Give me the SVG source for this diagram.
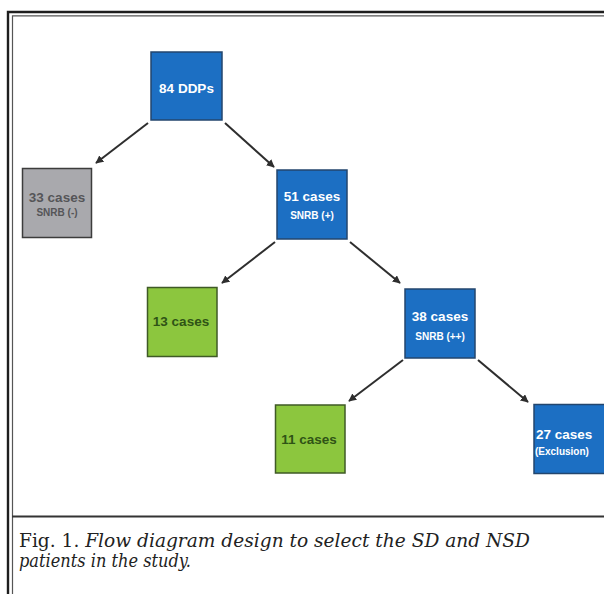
<svg xmlns="http://www.w3.org/2000/svg" width="604" height="594" viewBox="0 0 604 594">
<defs>
<marker id="ah" viewBox="0 0 10 10" refX="9" refY="5" markerWidth="4" markerHeight="4" orient="auto" markerUnits="strokeWidth">
<path d="M0,0 L10,5 L0,10 z" fill="#2e2e2e"/>
</marker>
</defs>
<style>
.blue{fill:#1c6fc3;stroke:#23466e;stroke-width:1.5}
.gray{fill:#a9a9ad;stroke:#3c3c3c;stroke-width:1.5}
.green{fill:#8cc63e;stroke:#3f5a26;stroke-width:1.5}
.t{font-family:"Liberation Sans",Arial,sans-serif;font-weight:bold;text-anchor:middle}
.m{font-size:13.5px}
.s{font-size:10px}
.w{fill:#ffffff}
.g{fill:#555558}
.d{fill:#2f5316}
.conn line{stroke:#2e2e2e;stroke-width:2;marker-end:url(#ah)}
.cap{font-family:"DejaVu Serif","Liberation Serif",serif;font-size:18px;fill:#222}
</style>
<rect width="604" height="594" fill="#ffffff"/>
<g id="frame" fill="none">
<path d="M8,594 V12 H610" stroke="#1e1e1e" stroke-width="2.4"/>
<path d="M12.5,594 V15.8 H610" stroke="#555" stroke-width="1.2"/>
<line x1="12" y1="516.5" x2="604" y2="516.5" stroke="#333" stroke-width="2"/>
</g>
<g class="conn">
<line x1="148" y1="123" x2="96" y2="163"/>
<line x1="225" y1="123" x2="274" y2="167"/>
<line x1="275" y1="242" x2="222" y2="283"/>
<line x1="350" y1="242" x2="400" y2="283"/>
<line x1="403" y1="360" x2="349" y2="401"/>
<line x1="478" y1="360" x2="528" y2="402"/>
</g>
<g id="n84">
<rect class="blue" x="151" y="52" width="71" height="68"/>
<text class="t m w" x="186.5" y="93">84 DDPs</text>
</g>
<g id="n33">
<rect class="gray" x="22.5" y="168.5" width="69" height="69"/>
<text class="t m g" x="57" y="202">33 cases</text>
<text class="t s g" x="57" y="216">SNRB (-)</text>
</g>
<g id="n51">
<rect class="blue" x="277" y="170" width="70" height="69"/>
<text class="t m w" x="312" y="201">51 cases</text>
<text class="t s w" x="312" y="219">SNRB (+)</text>
</g>
<g id="n13">
<rect class="green" x="147.5" y="287.5" width="69.5" height="69"/>
<text class="t m d" x="181" y="326">13 cases</text>
</g>
<g id="n38">
<rect class="blue" x="405" y="289" width="70" height="69"/>
<text class="t m w" x="440" y="321">38 cases</text>
<text class="t s w" x="440" y="340">SNRB (++)</text>
</g>
<g id="n11">
<rect class="green" x="275.5" y="405" width="69.5" height="68"/>
<text class="t m d" x="309" y="444">11 cases</text>
</g>
<g id="n27">
<rect class="blue" x="534" y="404.5" width="76" height="69"/>
<text class="t m w" x="536" y="439" style="text-anchor:start">27 cases</text>
<text class="t s w" x="535" y="455" style="text-anchor:start">(Exclusion)</text>
</g>
<g id="caption">
<text class="cap" x="19" y="547" textLength="511" lengthAdjust="spacingAndGlyphs">Fig. 1. <tspan font-style="italic">Flow diagram design to select the SD and NSD</tspan></text>
<text class="cap" x="19" y="567" font-style="italic" textLength="172" lengthAdjust="spacingAndGlyphs">patients in the study.</text>
</g>
</svg>
